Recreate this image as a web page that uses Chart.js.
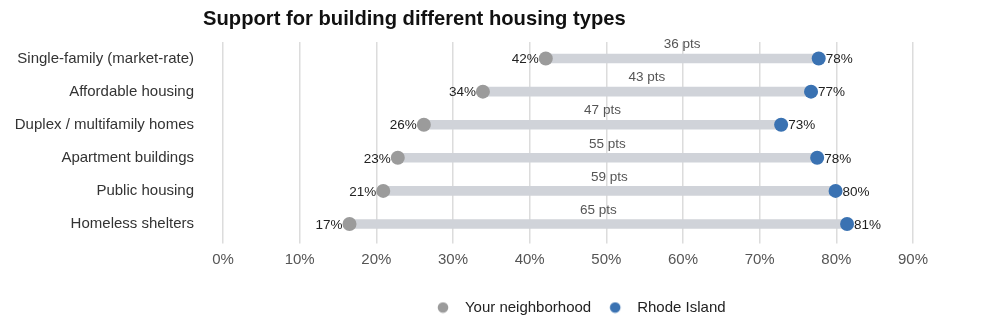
<!DOCTYPE html>
<html>
<head>
<meta charset="utf-8">
<script src="https://cdn.jsdelivr.net/npm/chart.js@4.4.1/dist/chart.umd.min.js"></script>
<style>
  html, body { margin: 0; padding: 0; background: #fff; }
  .wrap { position: relative; width: 1000px; height: 327px; }
  .title { position: absolute; left: 203px; top: 7px; font: bold 20.2px "Liberation Sans", Arial, sans-serif; color: #111; }
</style>
</head>
<body>
<div class="wrap">
  <div class="title">Support for building different housing types</div>
  <canvas id="dumbbell" width="1000" height="327"></canvas>
</div>

<script type="text/javascript">
    // housing types, top to bottom
    const categories = [
      "Single-family (market-rate)",
      "Affordable housing",
      "Duplex / multifamily homes",
      "Apartment buildings",
      "Public housing",
      "Homeless shelters"
    ];
    // % support
    const neighborhood = [42.1, 33.9, 26.2, 22.8, 20.9, 16.5];
    const rhodeIsland  = [77.7, 76.7, 72.8, 77.5, 79.9, 81.4];
    const xTicks = [0, 10, 20, 30, 40, 50, 60, 70, 80, 90];

    const GREY = "#9b9b9b";
    const BLUE = "#3a72b2";
    const FONT = "'Liberation Sans', Arial, sans-serif";

    const ranges = neighborhood.map((v, i) => [v, rhodeIsland[i]]);

    // legend dot, drawn a bit left of the box centre so the text sits further away
    function legendDot(color) {
      const c = document.createElement("canvas");
      c.width = 30; c.height = 12;
      const g = c.getContext("2d");
      g.fillStyle = color;
      g.beginPath();
      g.arc(8, 6, 5.3, 0, Math.PI * 2);
      g.fill();
      return c;
    }
    const legendDots = { 1: legendDot(GREY), 2: legendDot(BLUE) };

    // value labels + gap labels
    const labelPlugin = {
      id: "dumbbellLabels",
      afterDatasetsDraw(chart) {
        const ctx = chart.ctx;
        const xs = chart.scales.x, ys = chart.scales.y;
        ctx.save();
        ctx.textBaseline = "middle";
        categories.forEach((c, i) => {
          const y = ys.getPixelForValue(i);
          const xn = xs.getPixelForValue(neighborhood[i]);
          const xr = xs.getPixelForValue(rhodeIsland[i]);
          ctx.font = "13.5px " + FONT;
          ctx.fillStyle = "#222";
          ctx.textAlign = "right";
          ctx.fillText(Math.round(neighborhood[i]) + "%", xn - 7, y + 1);
          ctx.textAlign = "left";
          ctx.fillText(Math.round(rhodeIsland[i]) + "%", xr + 7, y + 1);
          ctx.fillStyle = "#555";
          ctx.textAlign = "center";
          ctx.fillText(Math.round(rhodeIsland[i] - neighborhood[i]) + " pts", (xn + xr) / 2, y - 14);
        });
        ctx.restore();
      }
    };

    // nudge the legend a little right, like the original
    const legendShift = {
      id: "legendShift",
      afterLayout(chart) {
        chart.legend.left += 16;
        chart.legend.right += 16;
      }
    };

    const ctx = document.getElementById("dumbbell").getContext("2d");

    const chart = new Chart(ctx, {
      type: "bar",
      data: {
        labels: categories,
        datasets: [
          {
            label: "gap",
            data: ranges,
            backgroundColor: "#d0d3d9",
            barThickness: 9,
            borderSkipped: false,
            order: 3
          },
          {
            type: "line",
            label: "Your neighborhood",
            data: neighborhood,
            indexAxis: "y",
            showLine: false,
            pointRadius: 7,
            pointHoverRadius: 7,
            pointBackgroundColor: GREY,
            pointBorderWidth: 0,
            backgroundColor: GREY,
            borderColor: GREY,
            order: 2
          },
          {
            type: "line",
            label: "Rhode Island",
            data: rhodeIsland,
            indexAxis: "y",
            showLine: false,
            pointRadius: 7,
            pointHoverRadius: 7,
            pointBackgroundColor: BLUE,
            pointBorderWidth: 0,
            backgroundColor: BLUE,
            borderColor: BLUE,
            order: 1
          }
        ]
      },
      options: {
        indexAxis: "y",
        responsive: false,
        animation: false,
        layout: { padding: { top: 42, right: 87, bottom: 2, left: 0 } },
        scales: {
          x: {
            min: 0,
            max: 90,
            afterBuildTicks: (s) => { s.ticks = xTicks.map(v => ({ value: v })); },
            afterFit: (s) => { s.height += 1; },
            border: { display: false },
            grid: { color: "#dcdcdc", lineWidth: 1.5, tickLength: 3 },
            ticks: {
              padding: 7,
              color: "#555",
              font: { family: FONT, size: 15 },
              callback: (v) => v + "%"
            }
          },
          y: {
            border: { display: false },
            grid: { display: false, drawTicks: false },
            afterFit: (s) => { s.width = 223; },
            ticks: {
              padding: 29,
              color: "#333",
              font: { family: FONT, size: 15 }
            }
          }
        },
        plugins: {
          tooltip: { enabled: false },
          legend: {
            position: "bottom",
            fullSize: false,
            labels: {
              usePointStyle: true,
              boxWidth: 15,
              boxHeight: 15,
              padding: 23.5,
              color: "#222",
              font: { family: FONT, size: 15 },
              generateLabels: (chart) =>
                Chart.defaults.plugins.legend.labels.generateLabels(chart)
                  .map(it => Object.assign(it, { pointStyle: legendDots[it.datasetIndex] })),
              filter: (item) => item.text !== "gap",
              sort: (a, b) => a.datasetIndex - b.datasetIndex
            }
          }
        }
      },
      plugins: [labelPlugin, legendShift]
    });
</script>
</body>
</html>
